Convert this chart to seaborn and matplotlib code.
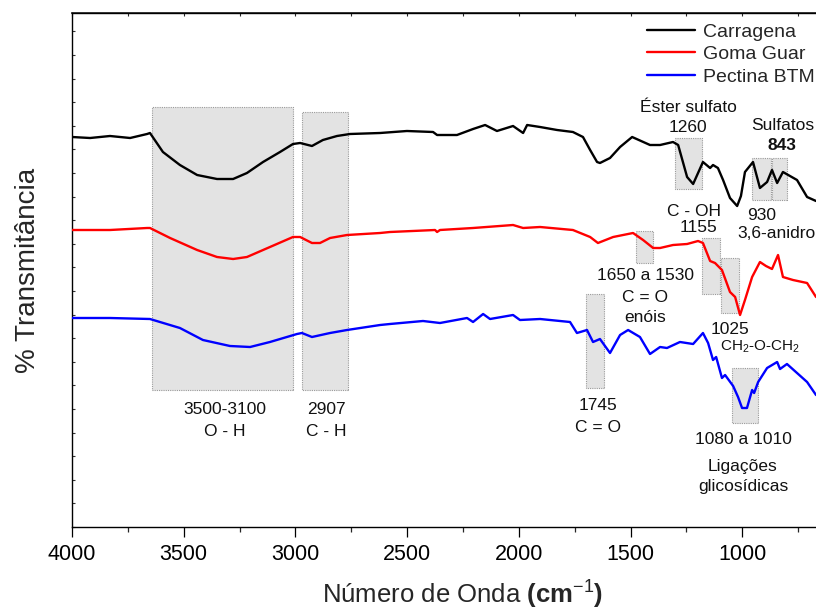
import numpy as np
import pandas as pd
import matplotlib
matplotlib.use("Agg")
import matplotlib.pyplot as plt
import seaborn as sns
from matplotlib.patches import Rectangle
from matplotlib.ticker import MultipleLocator

# ---------------- data (wavenumber cm-1, transmittance a.u.) ----------------
carr_wn = [4000, 3919, 3830, 3740, 3664, 3651, 3593, 3517, 3440, 3351, 3279, 3217, 3145, 3069,
           3011, 2979, 2926, 2877, 2814, 2756, 2621, 2501, 2384, 2366, 2277, 2205, 2151, 2098,
           2026, 1981, 1963, 1905, 1829, 1758, 1713, 1681, 1650, 1637, 1592, 1547, 1493, 1413,
           1368, 1310, 1287, 1247, 1220, 1176, 1144, 1131, 1109, 1086, 1055, 1023, 1006, 988,
           952, 921, 889, 867, 844, 818, 755, 710, 670]
carr_t = [390, 389, 391, 389, 393, 394, 375, 362, 352, 348, 348, 354, 365, 375,
          383, 384, 381, 387, 391, 393, 394, 396, 395, 392, 392, 398, 402, 396,
          401, 394, 402, 400, 397, 395, 390, 377, 365, 364, 369, 380, 390, 382,
          382, 385, 382, 350, 343, 365, 359, 362, 359, 347, 329, 321, 331, 355,
          365, 339, 345, 357, 344, 355, 347, 330, 326]

guar_wn = [4000, 3830, 3664, 3651, 3561, 3440, 3351, 3279, 3217, 3114, 3011, 2979, 2926, 2890,
           2845, 2769, 2621, 2577, 2375, 2366, 2353, 2205, 2026, 1981, 1905, 1758, 1681, 1646,
           1578, 1489, 1444, 1399, 1368, 1310, 1247, 1198, 1176, 1144, 1122, 1091, 1055, 1032,
           1010, 988, 956, 921, 894, 867, 840, 818, 773, 710, 670]
guar_t = [297, 297, 299, 299, 289, 277, 270, 268, 270, 280, 290, 290, 284, 284,
          289, 292, 294, 295, 297, 295, 297, 299, 302, 299, 300, 297, 290, 284,
          290, 294, 287, 279, 279, 282, 283, 286, 284, 266, 264, 257, 235, 230,
          212, 227, 250, 265, 261, 258, 272, 250, 247, 244, 230]

pect_wn = [4000, 3830, 3651, 3517, 3414, 3293, 3203, 3114, 2993, 2971, 2926, 2845, 2769, 2621,
           2577, 2429, 2353, 2232, 2205, 2160, 2129, 2026, 1995, 1905, 1771, 1740, 1695, 1668,
           1637, 1592, 1547, 1511, 1458, 1413, 1368, 1337, 1279, 1220, 1176, 1153, 1131, 1117,
           1091, 1077, 1041, 1019, 1001, 979, 956, 947, 929, 889, 844, 831, 800, 755, 710, 670]
pect_t = [209, 209, 208, 199, 187, 181, 180, 185, 193, 194, 190, 194, 197, 202,
          203, 206, 204, 209, 205, 213, 208, 212, 207, 208, 205, 194, 197, 185,
          188, 174, 192, 197, 190, 173, 180, 179, 185, 183, 194, 184, 167, 170,
          149, 152, 141, 130, 119, 119, 137, 134, 145, 159, 165, 158, 163, 154, 145, 132]

series_names = ["Carragena", "Goma Guar", "Pectina BTM"]
series_colors = ["#000000", "#ff0000", "#0000ff"]

# highlighted bands: high wn, low wn, bottom, top
band_hi = [3642, 2970, 1301, 956, 867, 1475, 1180, 1095, 1699, 1046]
band_lo = [3011, 2765, 1180, 871, 800, 1399, 1099, 1014, 1619, 929]
band_bottom = [137, 137, 338, 327, 327, 264, 233, 214, 139, 104]
band_top = [420, 415, 389, 369, 369, 296, 289, 269, 233, 159]

x_ticks = [4000, 3500, 3000, 2500, 2000, 1500, 1000]

# ---------------- build frame ----------------
frames = []
for name, wn, t in zip(series_names, [carr_wn, guar_wn, pect_wn], [carr_t, guar_t, pect_t]):
    frames.append(pd.DataFrame({"wn": wn, "t": t, "amostra": name}))
df = pd.concat(frames, ignore_index=True)

sns.set_theme(style="white")
plt.rcParams["font.family"] = ["Liberation Sans", "DejaVu Sans"]
plt.rcParams["mathtext.fontset"] = "custom"
plt.rcParams["mathtext.rm"] = "Liberation Sans"
plt.rcParams["mathtext.it"] = "Liberation Sans:italic"
plt.rcParams["mathtext.bf"] = "Liberation Sans:bold"

fig = plt.figure(figsize=(8.16, 6.16), dpi=100)
ax = fig.add_axes([72 / 816, 89 / 616, 782 / 816, 514 / 616])

for hi, lo, b, t in zip(band_hi, band_lo, band_bottom, band_top):
    ax.add_patch(Rectangle((lo, b), hi - lo, t - b, facecolor="#e3e3e3",
                           edgecolor="#9a9a9a", linestyle=(0, (1, 1)), linewidth=0.8, zorder=1))

sns.lineplot(data=df, x="wn", y="t", hue="amostra", hue_order=series_names,
             palette=series_colors, estimator=None, linewidth=1.7, ax=ax, zorder=3)

ax.set_xlim(4000, 500)
ax.set_ylim(0, 514)
ax.set_xticks(x_ticks)
ax.xaxis.set_minor_locator(MultipleLocator(250))
ax.set_yticks(np.arange(0, 514, 23.6))
ax.set_yticklabels([])
ax.tick_params(axis="x", which="major", direction="out", length=7, width=0.9,
               labelsize=15.5, pad=5, colors="black", bottom=True)
ax.tick_params(axis="x", which="minor", direction="out", length=3.5, width=0.9, bottom=True)
ax.tick_params(axis="y", which="major", direction="in", length=2.5, width=0.8, left=True,
               colors="#333333")
for s in ax.spines.values():
    s.set_color("black")
    s.set_linewidth(1.0)

top = ax.secondary_xaxis("top")
top.set_xticks(x_ticks)
top.xaxis.set_minor_locator(MultipleLocator(250))
top.set_xticklabels([])
top.tick_params(axis="x", which="both", direction="in", length=2.5, width=0.8)

ax.set_xlabel(r"Número de Onda $\mathbf{(cm}^{-1}\mathbf{)}$", fontsize=18.5, labelpad=10)
ax.set_ylabel("% Transmitância", fontsize=20, labelpad=19)

leg = ax.legend(title=None, frameon=False, fontsize=14, loc="upper left",
                bbox_to_anchor=(647 / 816, 1 - 23 / 616), bbox_transform=fig.transFigure,
                borderpad=0, borderaxespad=0, handlelength=2.45, handletextpad=0.45,
                labelspacing=0.25)
for line in leg.get_lines():
    line.set_linewidth(1.7)

fs = 12.5
def lab(x, y, s, **kw):
    ax.text(x, y, s, fontsize=kw.pop("fontsize", fs), ha=kw.pop("ha", "center"),
            va="center", color="#111111", zorder=4, **kw)

lab(3315, 118, "3500-3100")
lab(3315, 95, "O - H")
lab(2863, 118, "2907")
lab(2863, 95, "C - H")
lab(1243, 419, "Éster sulfato")
lab(1243, 400, "1260")
lab(676, 401, "Sulfatos", ha="right")
lab(822, 381, "843", fontweight="bold")
lab(1216, 316, "C - OH")
lab(1194, 299, "1155")
lab(912, 312, "930")
lab(1023, 294, "3,6-anidro", ha="left")
lab(1435, 251, "1650 a 1530")
lab(1435, 230, "C = O")
lab(1435, 210, "enóis")
lab(1055, 197, "1025")
lab(920, 180, r"CH$_2$-O-CH$_2$", fontsize=11)
lab(1646, 122, "1745")
lab(1646, 99, "C = O")
lab(997, 88, "1080 a 1010")
lab(997, 61, "Ligações")
lab(997, 40, "glicosídicas")

fig.savefig("out.png", dpi=100)
